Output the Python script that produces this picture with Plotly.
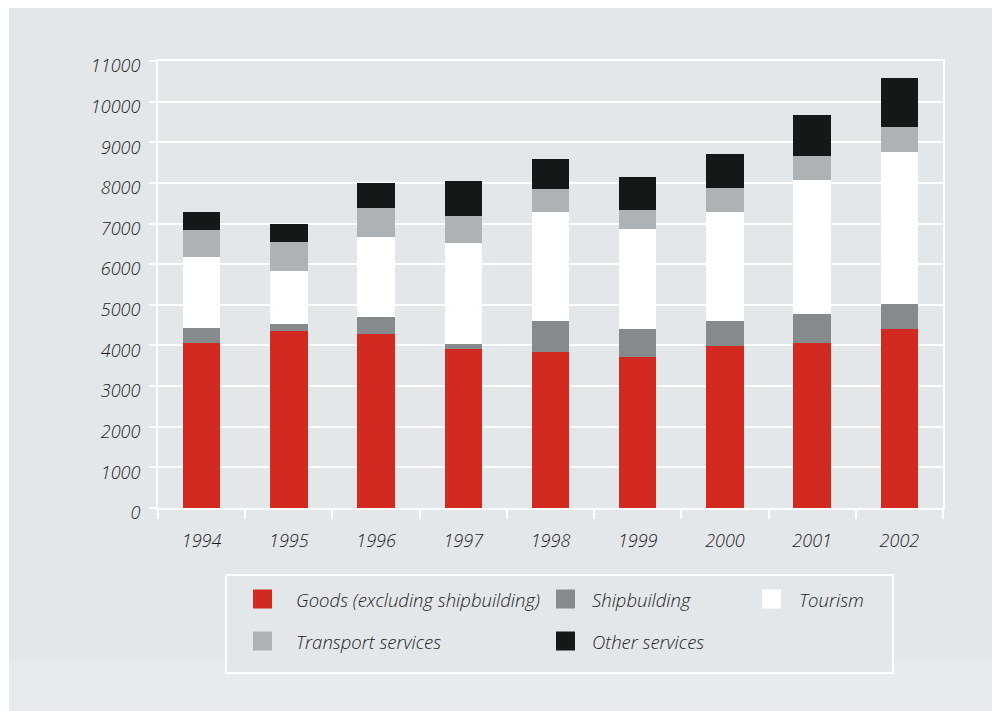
import plotly.graph_objects as go

years = ["1994", "1995", "1996", "1997", "1998", "1999", "2000", "2001", "2002"]
goods = [4070, 4350, 4270, 3925, 3840, 3720, 3975, 4070, 4415]
shipbuilding = [360, 190, 435, 120, 755, 690, 620, 715, 610]
tourism = [1750, 1290, 1960, 2470, 2695, 2445, 2695, 3295, 3745]
transport = [650, 710, 715, 675, 550, 475, 575, 580, 615]
other = [460, 460, 625, 860, 740, 805, 835, 1010, 1205]

series_names = ["Goods (excluding shipbuilding)", "Shipbuilding", "Tourism",
                "Transport services", "Other services"]
series_values = [goods, shipbuilding, tourism, transport, other]
series_colors = ["#d22a21", "#868a8d", "#ffffff", "#afb2b5", "#141819"]

y_ticks = list(range(0, 11001, 1000))

W, H = 992, 711
ML, MR, MT, MB = 158, 49, 61, 203
PW, PH = W - ML - MR, H - MT - MB


def px(x):
    return (x - ML) / PW


def py(y):
    return 1 - (y - MT) / PH


FONT = "Open Sans"
TXT = "#1c1c1c"
BG = "#e4e7ea"
BG2 = "#e8ebee"
FS = 18
LFS = 18.5
FW = 300

fig = go.Figure()
for name, vals, col in zip(series_names, series_values, series_colors):
    fig.add_trace(go.Bar(x=years, y=vals, name=name, marker=dict(color=col, line=dict(width=0)),
                         width=0.43, showlegend=False))

shapes = [
    dict(type="rect", xref="paper", yref="paper", x0=px(9), x1=px(992), y0=py(8), y1=py(662),
         fillcolor=BG, line=dict(width=0), layer="below"),
    dict(type="rect", xref="paper", yref="paper", x0=px(9), x1=px(992), y0=py(662), y1=py(711),
         fillcolor=BG2, line=dict(width=0), layer="below"),
    dict(type="rect", xref="paper", yref="paper", x0=px(226), x1=px(893), y0=py(575), y1=py(673),
         fillcolor=BG, line=dict(color="white", width=2), layer="below"),
]
annotations = []
# legend layout: (swatch left x, text x, row center y)
legend_pos = [(253, 294, 599), (556, 590, 599), (762, 797, 599), (253, 294, 641), (556, 590, 641)]
for (sx, tx, cy), name, col in zip(legend_pos, series_names, series_colors):
    shapes.append(dict(type="rect", xref="paper", yref="paper", x0=px(sx), x1=px(sx + 19),
                       y0=py(cy - 9.5), y1=py(cy + 9.5), fillcolor=col, line=dict(width=0)))
    annotations.append(dict(xref="paper", yref="paper", x=px(tx), y=py(cy), text=name,
                            showarrow=False, xanchor="left", yanchor="middle",
                            font=dict(family=FONT, size=LFS, color=TXT, style="italic", weight=FW)))

fig.update_layout(
    width=W, height=H,
    margin=dict(l=ML, r=MR, t=MT, b=MB, pad=0),
    paper_bgcolor="white",
    plot_bgcolor="rgba(0,0,0,0)",
    barmode="stack",
    shapes=shapes,
    annotations=annotations,
    font=dict(family=FONT, size=FS, color=TXT),
)
fig.update_xaxes(
    type="category", range=[-0.5, 8.5], showgrid=False,
    showline=True, linecolor="white", linewidth=2, mirror=True,
    ticks="outside", tickson="boundaries", ticklen=9, tickwidth=2, tickcolor="white",
    tickfont=dict(family=FONT, size=FS, color=TXT, style="italic", weight=FW),
    ticklabelstandoff=15,
)
fig.update_yaxes(
    range=[0, 11000], tickvals=y_ticks, ticktext=[str(v) for v in y_ticks],
    showgrid=True, gridcolor="white", gridwidth=1.5, zeroline=False,
    showline=True, linecolor="white", linewidth=2, mirror=True,
    ticks="outside", ticklen=7, tickwidth=2, tickcolor="white",
    tickfont=dict(family=FONT, size=FS, color=TXT, style="italic", weight=FW),
    ticklabelstandoff=5, ticklabelshift=5,
)

fig.write_html("out.html")
